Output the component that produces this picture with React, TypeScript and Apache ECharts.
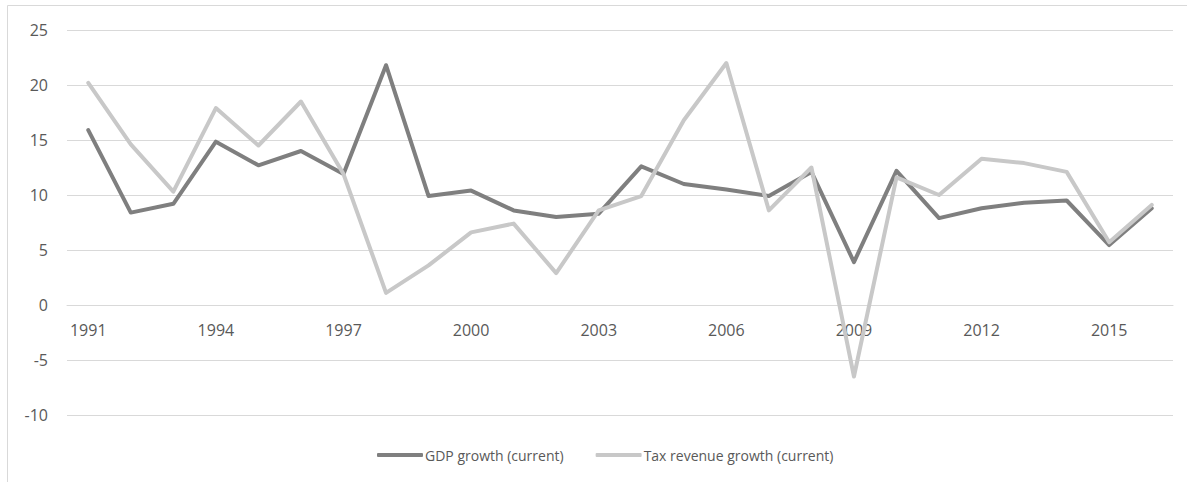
import React, { useEffect, useRef } from "react";
import * as echarts from "echarts";

const years = [
  "1991", "1992", "1993", "1994", "1995", "1996", "1997", "1998", "1999", "2000",
  "2001", "2002", "2003", "2004", "2005", "2006", "2007", "2008", "2009", "2010",
  "2011", "2012", "2013", "2014", "2015", "2016",
];

const gdpGrowth = [
  15.9, 8.4, 9.2, 14.85, 12.7, 14.0, 11.9, 21.8, 9.9, 10.4,
  8.6, 8.0, 8.3, 12.6, 11.0, 10.5, 9.9, 12.1, 3.9, 12.2,
  7.9, 8.8, 9.3, 9.5, 5.45, 8.8,
];

const taxRevenueGrowth = [
  20.2, 14.6, 10.3, 17.9, 14.5, 18.5, 11.9, 1.1, 3.6, 6.6,
  7.4, 2.9, 8.6, 9.9, 16.8, 22.0, 8.6, 12.5, -6.5, 11.6,
  10.0, 13.3, 12.9, 12.1, 5.7, 9.1,
];

const seriesNames = ["GDP growth (current)", "Tax revenue growth (current)"];

export default function App() {
  const ref = useRef<HTMLDivElement>(null);
  useEffect(() => {
    if (!ref.current) return;
    const chart = echarts.init(ref.current, undefined, { renderer: "svg" });
    const font = "Open Sans";
    chart.setOption({
      animation: false,
      backgroundColor: "#ffffff",
      graphic: [
        {
          type: "rect",
          shape: { x: 7.5, y: 5.5, width: 1200, height: 500 },
          style: { fill: "none", stroke: "#d9d9d9", lineWidth: 1 },
          silent: true,
        },
      ],
      grid: { left: 67, right: 14, top: 30, bottom: 67 },
      legend: {
        left: 372,
        top: 443,
        itemWidth: 46,
        itemHeight: 4,
        itemGap: 32,
        icon: "roundRect",
        data: seriesNames,
        textStyle: { color: "#595959", fontSize: 14, fontFamily: font, padding: [0, 0, 0, -3] },
      },
      xAxis: {
        type: "category",
        data: years,
        boundaryGap: true,
        position: "bottom",
        offset: -110,
        z: 0,
        axisLine: { onZero: false, lineStyle: { color: "#d9d9d9", width: 1 } },
        axisTick: { show: false },
        axisLabel: { interval: 2, color: "#595959", fontSize: 16, fontFamily: font, margin: 17 },
      },
      yAxis: {
        type: "value",
        min: -10,
        max: 25,
        interval: 5,
        axisLine: { show: false },
        axisTick: { show: false },
        axisLabel: { color: "#595959", fontSize: 16, fontFamily: font, margin: 19 },
        splitLine: { lineStyle: { color: "#d9d9d9", width: 1 } },
      },
      series: [
        {
          name: seriesNames[0],
          type: "line",
          z: 3,
          data: gdpGrowth,
          showSymbol: false,
          symbol: "none",
          lineStyle: { color: "#7f7f7f", width: 4, cap: "round", join: "round" },
          itemStyle: { color: "#7f7f7f" },
        },
        {
          name: seriesNames[1],
          type: "line",
          z: 3,
          data: taxRevenueGrowth,
          showSymbol: false,
          symbol: "none",
          lineStyle: { color: "#c8c8c8", width: 4, cap: "round", join: "round" },
          itemStyle: { color: "#c8c8c8" },
        },
      ],
    });
    return () => chart.dispose();
  }, []);
  return (
    <div
      ref={ref}
      style={{ position: "fixed", left: 0, top: 0, width: 1187, height: 482 }}
    />
  );
}
